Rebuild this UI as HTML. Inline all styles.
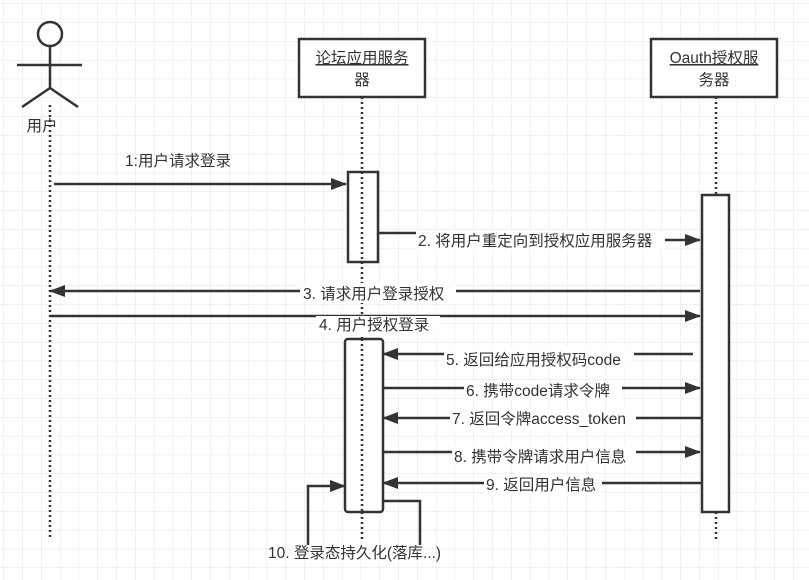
<!DOCTYPE html>
<html><head><meta charset="utf-8"><style>
html,body{margin:0;padding:0;background:#fff}
svg{display:block}
text{font-family:"Liberation Sans","Noto Sans CJK SC",sans-serif;font-size:15.5px;fill:#333}
</style></head><body>
<svg width="809" height="580" viewBox="0 0 809 580" xmlns="http://www.w3.org/2000/svg">
<defs>
<pattern id="g" width="18.8" height="18.8" patternUnits="userSpaceOnUse" x="4" y="4">
<path d="M18.8 0V18.8M0 18.8H18.8" stroke="#e3e3e3" stroke-width="1" fill="none"/>
</pattern>
<marker id="a" markerWidth="16" markerHeight="12" refX="15" refY="6" orient="auto" markerUnits="userSpaceOnUse">
<path d="M0,0 L16,6 L0,12 Z" fill="#333"/>
</marker>
</defs>
<rect width="809" height="580" fill="url(#g)"/>
<g stroke="#333" stroke-width="2.5" fill="none">
<circle cx="50" cy="34" r="12" fill="#fff"/>
<path d="M50 46V88M17 65H82M50 88L22 107M50 88L78 107"/>
<rect x="299" y="39" width="126" height="58" fill="#fff"/>
<rect x="651" y="39" width="126" height="58" fill="#fff"/>
</g>
<g stroke="#333" stroke-width="2.5" stroke-dasharray="2,3" fill="none">
<path d="M50 105V540M362 97V540M716 97V540"/>
</g>
<g stroke="#333" stroke-width="2.5" fill="none">
<rect x="348" y="172" width="30" height="90" fill="#fff"/>
<rect x="345" y="339" width="38" height="173" rx="3" fill="#fff"/>
<rect x="702" y="195" width="27" height="317" fill="#fff"/>
</g>
<g stroke="#333" stroke-width="2.5" stroke-dasharray="2,3"><path d="M362 172V262M362 339V512"/></g>
<g stroke="#333" stroke-width="2.5" fill="none" marker-end="url(#a)">
<path d="M54 184H346"/>
<path d="M665 240H700"/>
<path d="M700 291H50"/>
<path d="M50 316H700"/>
<path d="M693 354H383"/>
<path d="M383 388H700"/>
<path d="M702 418H383"/>
<path d="M383 452H700"/>
<path d="M702 483H383"/>
<path d="M308 545V486H345"/>
</g>
<g stroke="#333" stroke-width="2.5" fill="none">
<path d="M378 233H416"/>
<path d="M383 501H420V545"/>
</g>
<g text-anchor="middle">
<text x="42" y="131">用户</text>
<text x="362" y="63" text-decoration="underline">论坛应用服务</text>
<text x="362" y="85">器</text>
<text x="714" y="63" text-decoration="underline">Oauth授权服</text>
<text x="714" y="85">务器</text>
<text x="178" y="166">1:用户请求登录</text>
</g>
<g>
<rect x="416" y="230" width="249" height="20" fill="#fff"/>
<text x="418" y="246">2. 将用户重定向到授权应用服务器</text>
<rect x="300" y="283" width="156" height="20" fill="#fff"/>
<text x="303" y="299">3. 请求用户登录授权</text>
<rect x="316" y="316" width="124" height="18" fill="#fff"/>
<text x="319" y="330">4. 用户授权登录</text>
<rect x="444" y="346" width="190" height="20" fill="#fff"/>
<text x="446" y="365">5. 返回给应用授权码code</text>
<rect x="464" y="380" width="158" height="20" fill="#fff"/>
<text x="466" y="396">6. 携带code请求令牌</text>
<rect x="450" y="410" width="186" height="20" fill="#fff"/>
<text x="452" y="424">7. 返回令牌access_token</text>
<rect x="452" y="445" width="184" height="20" fill="#fff"/>
<text x="454" y="462">8. 携带令牌请求用户信息</text>
<rect x="484" y="475" width="118" height="20" fill="#fff"/>
<text x="486" y="490">9. 返回用户信息</text>
<text x="268" y="558">10. 登录态持久化(落库...)</text>
</g>
</svg>
</body></html>
